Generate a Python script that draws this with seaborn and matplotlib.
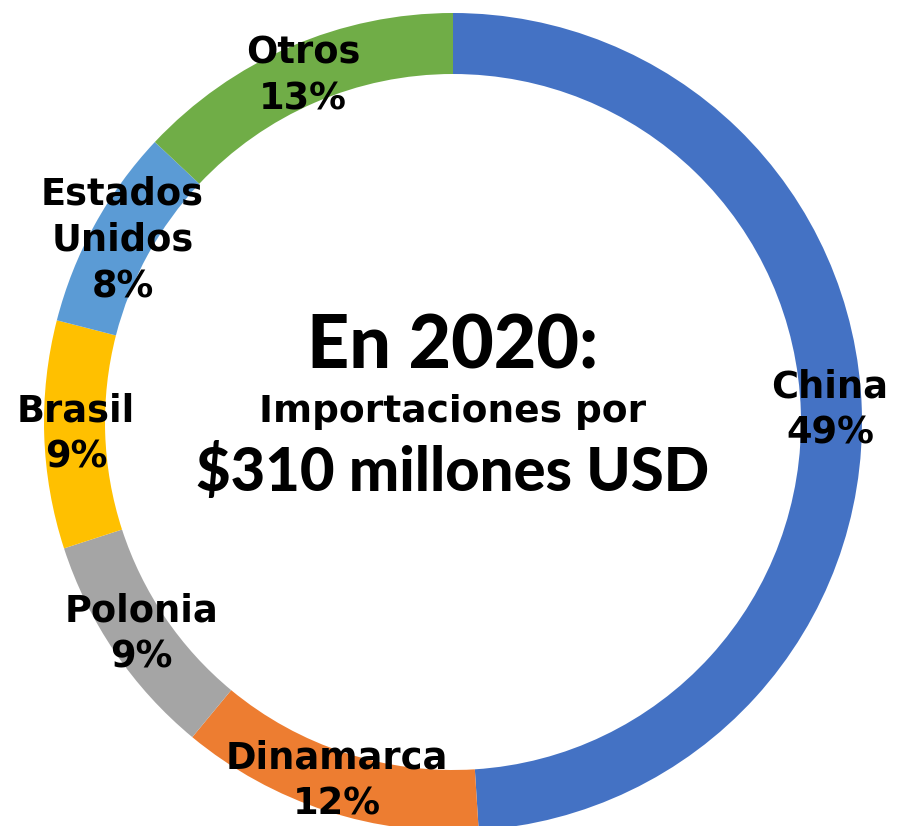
import matplotlib
matplotlib.use("Agg")
import matplotlib.pyplot as plt
import numpy as np
import seaborn as sns

# Import shares by country of origin (percent)
countries = ["China", "Dinamarca", "Polonia", "Brasil", "Estados\nUnidos", "Otros"]
shares = [49, 12, 9, 9, 8, 13]
colors = ["#4472C4", "#ED7D31", "#A5A5A5", "#FFC000", "#5B9BD5", "#70AD47"]

title_line1 = "En 2020:"
title_line2 = "Importaciones por"
title_line3 = "$310 millones USD"

sns.set_theme(style="white")
plt.rcParams["font.family"] = ["DejaVu Sans"]

W, H = 897, 826
fig = plt.figure(figsize=(W / 100, H / 100), dpi=100)
ax = fig.add_axes([0, 0, 1, 1])

cx, cy = 453, H - 422
R = 409
ring = 61

ax.pie(shares, colors=colors, startangle=90, counterclock=False,
       center=(cx, cy), radius=R,
       wedgeprops=dict(width=ring, linewidth=0))

# pie() resets the limits, so pin them to pixel units afterwards
ax.set_xlim(0, W)
ax.set_ylim(0, H)
ax.set_aspect("equal")
ax.axis("off")

# Labels placed along the ring at each slice's mid-angle
total = sum(shares)
start = 0.0
label_r = R * 0.922
for name, val in zip(countries, shares):
    mid = start + val / 2
    theta = np.deg2rad(mid / total * 360)
    x = cx + label_r * np.sin(theta)
    y = cy + label_r * np.cos(theta)
    ax.text(x, y, f"{name}\n{val}%", ha="center", va="center",
            fontsize=26.5, fontweight="bold", color="black", linespacing=1.32)
    start += val

heavy = ["Lato", "DejaVu Sans"]
ax.text(cx, cy + 75, title_line1, ha="center", va="center", family=heavy,
        fontsize=53, fontweight="black", color="black")
ax.text(cx, cy + 10, title_line2, ha="center", va="center",
        fontsize=27, fontweight="bold", color="black")
ax.text(cx, cy - 50, title_line3, ha="center", va="center", family=heavy,
        fontsize=43, fontweight="black", color="black")

fig.savefig("out.png", dpi=100, facecolor="white")
